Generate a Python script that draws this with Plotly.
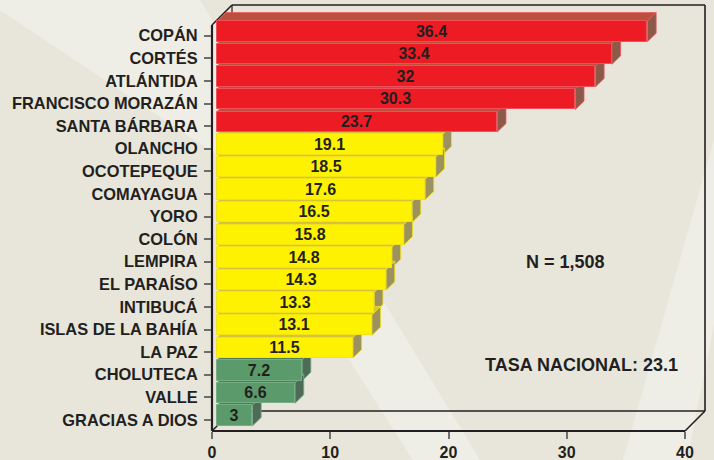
import plotly.graph_objects as go

# ---- data ----
departamentos = ["COPÁN", "CORTÉS", "ATLÁNTIDA", "FRANCISCO MORAZÁN", "SANTA BÁRBARA",
                 "OLANCHO", "OCOTEPEQUE", "COMAYAGUA", "YORO", "COLÓN", "LEMPIRA",
                 "EL PARAÍSO", "INTIBUCÁ", "ISLAS DE LA BAHÍA", "LA PAZ",
                 "CHOLUTECA", "VALLE", "GRACIAS A DIOS"]
tasas = [36.4, 33.4, 32, 30.3, 23.7, 19.1, 18.5, 17.6, 16.5, 15.8, 14.8,
         14.3, 13.3, 13.1, 11.5, 7.2, 6.6, 3]
grupo = ["alto"] * 5 + ["medio"] * 10 + ["bajo"] * 3
x_ticks = [0, 10, 20, 30, 40]
nota_n = "N = 1,508"
nota_tasa = "TASA NACIONAL: 23.1"

# ---- styles ----
FRONT = {"alto": "#ED1C24", "medio": "#FFF200", "bajo": "#5B9A6A"}
EDGE = {"alto": "#F0505A", "medio": "#F2E21A", "bajo": "#76AE84"}
TOP = {"alto": "#B9513C", "medio": "#D3C43A", "bajo": "#4F7D5C"}
SIDE = {"alto": "#8C5A48", "medio": "#9C9260", "bajo": "#4E6B58"}
TXT = "#231F20"
FONT = "Liberation Sans, Arial, sans-serif"

W, H = 714, 460
L, R, T, B = 212, 29, 5, 29
X0PX, X1PX = L, W - R
Y0PX, Y1PX = T, H - B

# y axis geometry (reversed numeric category index)
ROW_PX = 22.6
FIRST_TICK_PX = 35.7
y_top_val = (Y0PX - FIRST_TICK_PX) / ROW_PX
y_bot_val = (Y1PX - FIRST_TICK_PX) / ROW_PX
UNIT_PX = (X1PX - X0PX) / 40.0

BAR_W = 0.91
SHIFT_Y = 0.19              # bars sit slightly deeper (up)
BASE = 5 / UNIT_PX          # and slightly right
DX = 8.7 / UNIT_PX          # 3D depth in x units
DY = 8.5 / ROW_PX           # 3D depth in y units

idx = list(range(len(departamentos)))


def px_x(p):
    return (p - X0PX) / (X1PX - X0PX)


def px_y(p):
    return (Y1PX - p) / (Y1PX - Y0PX)


shapes = []
# background light bands
bg_light = "#EFEEE6"
bands = [
    [(0, 0), (200, 0), (480, 460), (413, 460), (220, 157), (0, 10)],
    [(714, 140), (623, 460), (687, 460), (714, 325)],
]
for poly in bands:
    path = "M " + " L ".join(f"{px_x(a):.4f},{px_y(b):.4f}" for a, b in poly) + " Z"
    shapes.append(dict(type="path", xref="paper", yref="paper", path=path,
                       fillcolor=bg_light, line=dict(width=0), layer="below"))

# 3D frame
frame = [
    ((232, 5), (705, 5), 1.6), ((705, 5), (705, 411), 1.6),
    ((232, 411), (705, 411), 1.6), ((232, 5), (232, 411), 1.2),
    ((212, 25), (232, 5), 1.6), ((212, 431), (232, 411), 1.6),
    ((685, 431), (705, 411), 1.6),
    ((212, 25), (212, 431), 2.2), ((212, 431), (685, 431), 2.2),
]
for (ax, ay), (bx, by), w in frame:
    shapes.append(dict(type="line", xref="paper", yref="paper",
                       x0=px_x(ax), y0=px_y(ay), x1=px_x(bx), y1=px_y(by),
                       line=dict(color=TXT, width=w), layer="below"))

# 3D faces of bars (top + side), drawn behind the front faces
for i, v, g in zip(idx, tasas, grupo):
    x0 = BASE
    x1 = BASE + v
    yt = i - SHIFT_Y - BAR_W / 2
    yb = i - SHIFT_Y + BAR_W / 2
    top = (f"M {x0},{yt} L {x1},{yt} L {x1 + DX},{yt - DY} "
           f"L {x0 + DX},{yt - DY} Z")
    side = (f"M {x1},{yt} L {x1 + DX},{yt - DY} L {x1 + DX},{yb - DY} "
            f"L {x1},{yb} Z")
    shapes.append(dict(type="path", xref="x", yref="y", path=top,
                       fillcolor=TOP[g], line=dict(color=EDGE[g], width=0.8),
                       layer="below"))
    shapes.append(dict(type="path", xref="x", yref="y", path=side,
                       fillcolor=SIDE[g], line=dict(color=EDGE[g], width=0.8),
                       layer="below"))

fig = go.Figure()
fig.add_trace(go.Bar(
    orientation="h",
    x=tasas,
    y=idx,
    base=BASE,
    width=BAR_W,
    offset=-SHIFT_Y - BAR_W / 2,
    marker=dict(color=[FRONT[g] for g in grupo],
                line=dict(color=[EDGE[g] for g in grupo], width=1)),
    text=[f"{v:g}" for v in tasas],
    textposition="inside",
    insidetextanchor="middle",
    textangle=0,
    constraintext="none",
    textfont=dict(family=FONT, size=16, color=TXT, weight="bold"),
    hoverinfo="skip",
    showlegend=False,
))

annotations = [
    dict(text=nota_n, x=px_x(565), y=px_y(261.5), xref="paper", yref="paper",
         showarrow=False, xanchor="center", yanchor="middle",
         font=dict(family=FONT, size=18, color=TXT, weight="bold")),
    dict(text=nota_tasa, x=px_x(581.5), y=px_y(365), xref="paper", yref="paper",
         showarrow=False, xanchor="center", yanchor="middle",
         font=dict(family=FONT, size=18, color=TXT, weight="bold")),
]

fig.update_layout(
    width=W, height=H,
    margin=dict(l=L, r=R, t=T, b=B, pad=0, autoexpand=False),
    paper_bgcolor="#E8E6DA",
    plot_bgcolor="rgba(0,0,0,0)",
    shapes=shapes,
    annotations=annotations,
    bargap=0,
    xaxis=dict(range=[0, 40], tickvals=x_ticks, showgrid=False, zeroline=False,
               showline=False, ticks="outside", ticklen=7, tickwidth=1.5,
               tickcolor="#6E6E6E", ticklabelstandoff=0, automargin=False,
               tickfont=dict(family=FONT, size=16, color=TXT, weight="bold"),
               fixedrange=True),
    yaxis=dict(range=[y_bot_val, y_top_val], tickvals=idx, ticktext=departamentos,
               showgrid=False, zeroline=False, showline=False, automargin=False,
               ticks="outside", ticklen=7, tickwidth=1.5, tickcolor="#6E6E6E",
               ticklabelstandoff=3,
               tickfont=dict(family=FONT, size=16.4, color=TXT, weight="bold"),
               fixedrange=True),
)

fig.write_html(
    "out.html",
    config={"displayModeBar": False},
    post_script="document.body.style.margin='0';document.body.style.background='#E8E6DA';",
)
